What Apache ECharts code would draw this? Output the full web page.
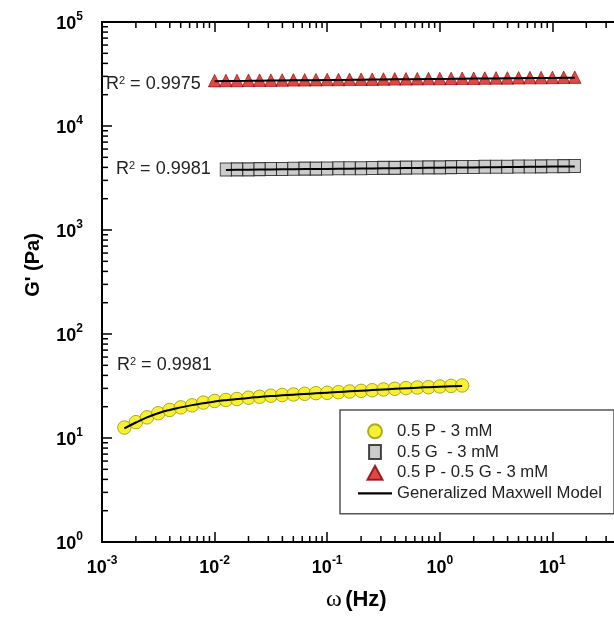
<!DOCTYPE html>
<html><head><meta charset="utf-8">
<script src="https://cdn.jsdelivr.net/npm/echarts@6/dist/echarts.min.js"></script>
<style>html,body{margin:0;padding:0;background:#fff;overflow:hidden;width:614px;height:620px}#c{width:700px;height:620px}</style>
</head><body><div id="c"></div>
<script>
// ---- data ----
const omegaP  = [0.00158,0.002,0.00251,0.00316,0.00398,0.00501,0.00631,0.00794,0.01,0.0126,0.0158,0.02,0.0251,0.0316,0.0398,0.0501,0.0631,0.0794,0.1,0.126,0.158,0.2,0.251,0.316,0.398,0.501,0.631,0.794,1,1.26,1.58];
const gP      = [12.6,14.2,15.8,17.3,18.6,19.7,20.6,21.9,22.7,23.2,23.7,24.4,24.9,25.5,25.9,26.2,26.6,27.0,27.2,27.6,28.0,28.4,28.8,29.3,29.7,30.2,30.6,30.8,31.3,31.7,32.0];
const modelP  = [12.4,14.1,15.8,17.3,18.6,19.7,20.7,21.6,22.4,23.1,23.7,24.3,24.8,25.3,25.7,26.1,26.5,26.9,27.3,27.7,28.1,28.5,28.9,29.3,29.7,30.1,30.5,30.8,31.1,31.4,31.6];

const omegaG  = [0.0126,0.0158,0.02,0.0251,0.0316,0.0398,0.0501,0.0631,0.0794,0.1,0.126,0.158,0.2,0.251,0.316,0.398,0.501,0.631,0.794,1,1.26,1.58,2,2.51,3.16,3.98,5.01,6.31,7.94,10,12.6,15.8];
const gG      = [3820,3830,3830,3850,3860,3860,3880,3890,3890,3910,3920,3930,3930,3950,3960,3960,3980,3990,4000,4000,4020,4030,4030,4050,4060,4060,4080,4080,4090,4100,4110,4120];
const modelG  = [3780,3790,3800,3810,3820,3830,3840,3850,3860,3870,3880,3890,3900,3910,3920,3930,3940,3950,3960,3970,3980,3990,4000,4010,4020,4030,4040,4050,4060,4070,4080,4090];

const omegaPG = [0.01,0.0126,0.0158,0.02,0.0251,0.0316,0.0398,0.0501,0.0631,0.0794,0.1,0.126,0.158,0.2,0.251,0.316,0.398,0.501,0.631,0.794,1,1.26,1.58,2,2.51,3.16,3.98,5.01,6.31,7.94,10,12.6,15.8];
const gPG     = [27300,27400,27400,27500,27600,27600,27700,27800,27800,27900,28000,28000,28100,28200,28200,28300,28400,28400,28500,28600,28600,28700,28800,28800,28900,29000,29000,29100,29200,29200,29300,29400,29500];
const modelPG = [27000,27100,27150,27200,27300,27350,27400,27500,27550,27600,27700,27750,27800,27900,27950,28000,28100,28150,28200,28300,28350,28400,28500,28550,28600,28700,28750,28800,28900,28950,29000,29100,29150];

const seriesNames = ['0.5 P - 3 mM', '0.5 G  - 3 mM', '0.5 P - 0.5 G - 3 mM', 'Generalized Maxwell Model'];
const r2Labels = ['0.9975', '0.9981', '0.9981'];

const X_MIN = 0.001, X_MAX = 100, Y_MIN = 1, Y_MAX = 100000;
// minor tick positions (2..9 per decade)
const minorTicks = [];
for (let k = -3; k <= 1; k++) for (let m = 2; m <= 9; m++) minorTicks.push([m * Math.pow(10, k), Y_MIN, 0]);
for (let k = 0; k <= 4; k++) for (let m = 2; m <= 9; m++) minorTicks.push([X_MIN, m * Math.pow(10, k), 1]);

const zip = (a, b) => a.map((v, i) => [v, b[i]]);
const FONT = '"Liberation Sans", Arial, sans-serif';

const powLabel = v => {
  const e = Math.round(Math.log10(v));
  return '{b|10}{s|' + e + '}';
};
const labelRich = {
  b: {fontFamily: FONT, fontWeight: 'bold', fontSize: 18, color: '#000', lineHeight: 22, verticalAlign: 'bottom'},
  s: {fontFamily: FONT, fontWeight: 'bold', fontSize: 12, color: '#000', lineHeight: 22, verticalAlign: 'top'}
};

const chart = echarts.init(document.getElementById('c'), null, {renderer: 'canvas'});
const axisCommon = {
  type: 'log', logBase: 10,
  axisLine: {show: true, lineStyle: {color: '#000', width: 2}},
  axisTick: {show: true, inside: true, length: 10, lineStyle: {color: '#000', width: 1.5}},
  splitLine: {show: false},
  minorTick: {show: false}
};

const r2Rich = {
  a: {fontFamily: FONT, fontSize: 18, fill: '#222'},
  s: {fontFamily: FONT, fontSize: 11, fill: '#222', verticalAlign: 'top'}
};

chart.setOption({
  animation: false,
  backgroundColor: '#fff',
  grid: {left: 102, top: 22, right: 35, bottom: 78, containLabel: false},
  xAxis: [
    Object.assign({}, axisCommon, {min: X_MIN, max: X_MAX, position: 'bottom',
      axisLabel: {formatter: powLabel, rich: labelRich, margin: 13}}),
    Object.assign({}, axisCommon, {min: X_MIN, max: X_MAX, position: 'top', axisLabel: {show: false}})
  ],
  yAxis: [
    Object.assign({}, axisCommon, {min: Y_MIN, max: Y_MAX, position: 'left',
      axisLabel: {formatter: powLabel, rich: labelRich, margin: 19}}),
    Object.assign({}, axisCommon, {min: Y_MIN, max: Y_MAX, position: 'right', axisLabel: {show: false}})
  ],
  legend: {
    orient: 'vertical', left: 340, top: 410,
    data: [
      {name: seriesNames[0], icon: 'circle'},
      {name: seriesNames[1], icon: 'path://M0,0L11,0L11,13L0,13Z'},
      {name: seriesNames[2], icon: 'path://M6.5,0L13,12L0,12Z'},
      {name: seriesNames[3], icon: 'path://M0,0L34,0L34,2.2L0,2.2Z'}
    ],
    itemWidth: 34, itemHeight: 14, itemGap: 2,
    padding: [12, 12, 11, 18],
    borderColor: '#555', borderWidth: 1.5, backgroundColor: '#fff',
    textStyle: {fontFamily: FONT, fontSize: 16.7, lineHeight: 18.7, color: '#222'},
    selectedMode: false
  },
  graphic: [
    {type: 'text', x: 33, y: 265, rotation: Math.PI / 2,
      style: {text: "G' (Pa)", font: 'bold 20px ' + FONT, fill: '#000', align: 'center', verticalAlign: 'middle'}},
    {type: 'text', left: 326, top: 588,
      style: {text: '{w|ω} {h|(Hz)}', rich: {w: {fontFamily: '"Liberation Serif", serif', fontSize: 24, fill: '#000'}, h: {fontFamily: FONT, fontWeight: 'bold', fontSize: 22, fill: '#000'}}}},
    {type: 'text', left: 106, top: 75, style: {text: '{a|R}{s|2}{a| = ' + r2Labels[0] + '}', rich: r2Rich}},
    {type: 'text', left: 116, top: 160, style: {text: '{a|R}{s|2}{a| = ' + r2Labels[1] + '}', rich: r2Rich}},
    {type: 'text', left: 117, top: 356, style: {text: '{a|R}{s|2}{a| = ' + r2Labels[2] + '}', rich: r2Rich}}
  ],
  series: [
    {name: seriesNames[0], type: 'scatter', data: zip(omegaP, gP), symbol: 'circle', symbolSize: 13.5,
      itemStyle: {color: '#f5ee00', borderColor: '#9c9600', borderWidth: 1}, z: 2},
    {name: seriesNames[1], type: 'scatter', data: zip(omegaG, gG), symbol: 'rect', symbolSize: [11.3, 13],
      itemStyle: {color: '#bfbfbf', borderColor: '#1a1a1a', borderWidth: 1}, z: 2},
    {name: seriesNames[2], type: 'scatter', data: zip(omegaPG, gPG), symbol: 'triangle', symbolSize: [12.5, 12.5],
      itemStyle: {color: '#d81a1a', borderColor: '#8a0000', borderWidth: 0.8}, z: 2},
    {name: seriesNames[3], type: 'line', data: zip(omegaP, modelP), symbol: 'none', smooth: true,
      lineStyle: {color: '#000', width: 2}, itemStyle: {color: '#000'}, z: 3},
    {name: seriesNames[3], type: 'line', data: zip(omegaG, modelG), symbol: 'none',
      lineStyle: {color: '#000', width: 2}, itemStyle: {color: '#000'}, z: 3},
    {name: seriesNames[3], type: 'line', data: zip(omegaPG, modelPG), symbol: 'none',
      lineStyle: {color: '#000', width: 2}, itemStyle: {color: '#000'}, z: 3},
    {type: 'custom', silent: true, data: minorTicks, z: 5, clip: false,
      renderItem: function (params, api) {
        const t = api.value(2);
        const st = {stroke: '#000', lineWidth: 1.5};
        if (t === 0) {
          const v = api.value(0);
          const p = api.coord([v, Y_MIN]), q = api.coord([v, Y_MAX]);
          return {type: 'group', children: [
            {type: 'line', shape: {x1: p[0], y1: p[1], x2: p[0], y2: p[1] - 6}, style: st},
            {type: 'line', shape: {x1: q[0], y1: q[1], x2: q[0], y2: q[1] + 6}, style: st}
          ]};
        } else {
          const v = api.value(1);
          const p = api.coord([X_MIN, v]);
          return {type: 'line', shape: {x1: p[0], y1: p[1], x2: p[0] + 6, y2: p[1]}, style: st};
        }
      }}
  ]
});
</script></body></html>
